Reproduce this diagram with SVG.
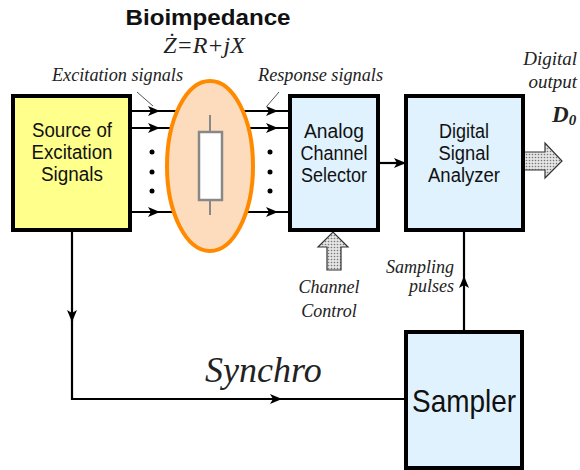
<svg xmlns="http://www.w3.org/2000/svg" width="580" height="470" viewBox="0 0 580 470">
  <style>
    .box { stroke: #000; stroke-width: 4; }
    .blue { fill: #E0F2FD; }
    .lbl { font-family: "Liberation Sans", Arial, sans-serif; font-size: 20px; fill: #111; text-anchor: middle; }
    .big { font-size: 32px; }
    .it { font-family: "Liberation Serif", "Times New Roman", serif; font-style: italic; fill: #222; font-size: 18px; }
    .wire { fill: none; stroke: #000; stroke-width: 2.2; }
    .thin { fill: none; stroke: #555; stroke-width: 1; }
    .fat { fill: url(#dots); stroke: #333; stroke-width: 1.2; }
  </style>
  <defs>
    <marker id="ah" viewBox="0 0 12 10" refX="11" refY="5" markerWidth="12" markerHeight="10" markerUnits="userSpaceOnUse" orient="auto">
      <path d="M0,0 L12,5 L0,10 L3,5 Z" fill="#000"/>
    </marker>
    <pattern id="dots" width="3" height="3" patternUnits="userSpaceOnUse">
      <rect width="3" height="3" fill="#e4e4e4"/>
      <circle cx="1.5" cy="1.5" r="0.8" fill="#777"/>
    </pattern>
  </defs>

  <!-- title -->
  <text x="208" y="25" font-family="Liberation Sans, Arial, sans-serif" font-size="22" font-weight="bold" text-anchor="middle" fill="#111" textLength="165" lengthAdjust="spacingAndGlyphs">Bioimpedance</text>
  <text x="204" y="53" class="it" style="font-size:24px" text-anchor="middle">Ż=R+jX</text>

  <!-- connectors -->
  <g id="connectors">
    <!-- excitation lines -->
    <path class="wire" d="M130,111 L159,111 L178,111" marker-mid="url(#ah)"/>
    <path class="wire" d="M130,128 L159,128 L172,128" marker-mid="url(#ah)"/>
    <path class="wire" d="M130,212 L159,212 L175,212" marker-mid="url(#ah)"/>
    <!-- response lines -->
    <path class="wire" d="M243,111 L277,111 L290,111" marker-mid="url(#ah)"/>
    <path class="wire" d="M248,128 L277,128 L290,128" marker-mid="url(#ah)"/>
    <path class="wire" d="M246,212 L277,212 L290,212" marker-mid="url(#ah)"/>
    <!-- selector to analyzer -->
    <path class="wire" d="M378,163 L405,163" marker-end="url(#ah)"/>
    <!-- synchro -->
    <path class="wire" d="M72,230 L72,321" marker-end="url(#ah)"/>
    <path class="wire" d="M72,319 L72,399 L281,399" marker-end="url(#ah)"/>
    <path class="wire" d="M279,399 L406,399"/>
    <!-- sampling pulses -->
    <path class="wire" d="M464,332 L464,277 L464,230" marker-mid="url(#ah)"/>
    <!-- leader lines -->
    <path class="thin" d="M137,92 L153,106"/>
    <path class="thin" d="M279,92 L267,106"/>
    <!-- channel control arrow -->
    <path class="fat" d="M327,270 L327,247 L318,247 L333,232 L348,247 L341,247 L341,270 Z"/>
    <!-- digital output arrow -->
    <path class="fat" d="M524,152 L545,152 L545,143 L562,161 L545,178 L545,170 L524,170 Z"/>
  </g>

  <!-- channel dots -->
  <g fill="#000">
    <circle cx="152" cy="152" r="2.5"/><circle cx="152" cy="172" r="2.5"/><circle cx="152" cy="191" r="2.5"/>
    <circle cx="270" cy="152" r="2.5"/><circle cx="270" cy="172" r="2.5"/><circle cx="270" cy="191" r="2.5"/>
  </g>

  <g id="source">
    <rect class="box" x="13" y="96" width="117" height="134" fill="#FFFF8C"/>
    <text class="lbl"><tspan x="72" y="137" textLength="80" lengthAdjust="spacingAndGlyphs">Source of</tspan><tspan x="72" y="159" textLength="81" lengthAdjust="spacingAndGlyphs">Excitation</tspan><tspan x="72" y="181" textLength="62" lengthAdjust="spacingAndGlyphs">Signals</tspan></text>
  </g>

  <g id="bioimpedance">
    <ellipse cx="210" cy="166" rx="43" ry="85" fill="#FDDCBE" stroke="#FF8A00" stroke-width="4"/>
    <path d="M210,115 L210,132 M210,200 L210,215" stroke="#888" stroke-width="2"/>
    <rect x="199" y="132" width="23" height="68" fill="#fff" stroke="#888" stroke-width="2.5"/>
  </g>

  <g id="selector">
    <rect class="box blue" x="290" y="96" width="88" height="134"/>
    <text class="lbl"><tspan x="334" y="138" textLength="60" lengthAdjust="spacingAndGlyphs">Analog</tspan><tspan x="334" y="160" textLength="67" lengthAdjust="spacingAndGlyphs">Channel</tspan><tspan x="334" y="182" textLength="66" lengthAdjust="spacingAndGlyphs">Selector</tspan></text>
  </g>

  <g id="analyzer">
    <rect class="box blue" x="406" y="96" width="117" height="134"/>
    <text class="lbl"><tspan x="464" y="138" textLength="50" lengthAdjust="spacingAndGlyphs">Digital</tspan><tspan x="464" y="160" textLength="51" lengthAdjust="spacingAndGlyphs">Signal</tspan><tspan x="464" y="182" textLength="72" lengthAdjust="spacingAndGlyphs">Analyzer</tspan></text>
  </g>

  <g id="sampler">
    <rect class="box blue" x="406" y="332" width="116" height="136"/>
    <text class="lbl big" x="464" y="412" textLength="104" lengthAdjust="spacingAndGlyphs">Sampler</text>
  </g>

  <!-- labels -->
  <text class="it" x="52" y="81" textLength="131" lengthAdjust="spacingAndGlyphs">Excitation signals</text>
  <text class="it" x="258" y="81" textLength="125" lengthAdjust="spacingAndGlyphs">Response signals</text>
  <text class="it" x="577" y="65" style="font-size:19px" text-anchor="end">Digital</text>
  <text class="it" x="577" y="88" style="font-size:19px" text-anchor="end">output</text>
  <text class="it" x="552" y="122" style="font-size:23px" font-weight="bold" fill="#000">D<tspan style="font-size:15px" dy="3">0</tspan></text>
  <text class="it" x="329" y="293" text-anchor="middle">Channel</text>
  <text class="it" x="329" y="317" text-anchor="middle">Control</text>
  <text class="it" x="454" y="273" text-anchor="end">Sampling</text>
  <text class="it" x="454" y="292" text-anchor="end">pulses</text>
  <text class="it" x="205" y="382" style="font-size:36px" fill="#111">Synchro</text>
</svg>
